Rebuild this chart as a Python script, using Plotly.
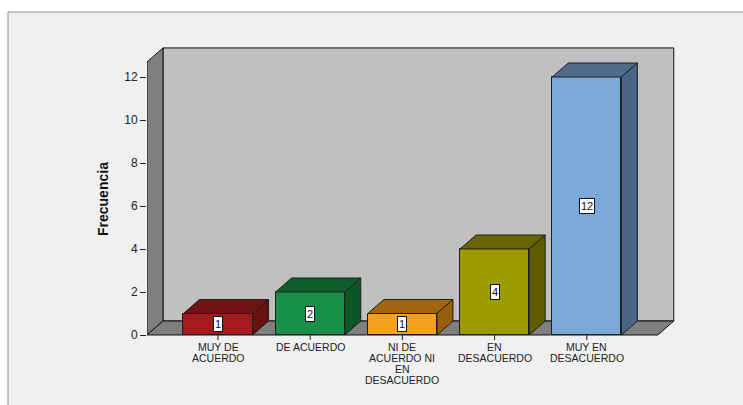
import plotly.graph_objects as go

# --- data ---------------------------------------------------------------
category_lines = [
    ["MUY DE", "ACUERDO"],
    ["DE ACUERDO"],
    ["NI DE", "ACUERDO NI", "EN", "DESACUERDO"],
    ["EN", "DESACUERDO"],
    ["MUY EN", "DESACUERDO"],
]
frecuencia = [1, 2, 1, 4, 12]
y_ticks = [0, 2, 4, 6, 8, 10, 12]

front_colors = ["#A8191D", "#17904A", "#F6A11E", "#9E9B00", "#7BAAD8"]
top_colors = ["#701313", "#0E5E2C", "#A2640F", "#676400", "#4F6C8D"]
side_colors = ["#691010", "#0B5527", "#9A5F0E", "#5F5C00", "#4A6585"]

# --- geometry (pixels / data units) -------------------------------------
W, H = 743, 405
PX_LEFT, PX_RIGHT, PX_TOP, PX_BOTTOM = 147, 690, 40, 344
PX_ZERO = 335          # pixel row of value 0
PX_CAT = 92.2          # pixels per category
PX_UNIT = 21.5         # pixels per frequency unit
CENTER0 = 218          # pixel column of the first category

x_min = (PX_LEFT - CENTER0) / PX_CAT
x_max = x_min + (PX_RIGHT - PX_LEFT) / PX_CAT
y_min = -(PX_BOTTOM - PX_ZERO) / PX_UNIT
y_max = y_min + (PX_BOTTOM - PX_TOP) / PX_UNIT

DX = 16 / PX_CAT       # depth offset, horizontal
DY = 14 / PX_UNIT      # depth offset, vertical
BAR_W = 0.75
WALL_L, WALL_R = -0.77, 4.77
WALL_TOP = 12.7

PW = PX_RIGHT - PX_LEFT
PH = PX_BOTTOM - PX_TOP


def px_to_paper_x(px):
    return (px - PX_LEFT) / PW


def px_to_paper_y(py):
    return (PX_BOTTOM - py) / PH


def poly(points):
    return "M " + " L ".join(f"{x},{y}" for x, y in points) + " Z"


FONT = "Liberation Sans, Arial, sans-serif"
EDGE = "#1E1E1E"

fig = go.Figure()

shapes = [
    # outer chart panel
    dict(type="rect", xref="paper", yref="paper",
         x0=px_to_paper_x(8), x1=px_to_paper_x(780),
         y0=px_to_paper_y(440), y1=px_to_paper_y(12),
         fillcolor="#F0F0F0", line=dict(color="#8C8C8C", width=1), layer="below"),
    # back wall
    dict(type="path", xref="x", yref="y", layer="below",
         path=poly([(WALL_L + DX, DY), (WALL_R + DX, DY),
                    (WALL_R + DX, WALL_TOP + DY), (WALL_L + DX, WALL_TOP + DY)]),
         fillcolor="#C0C0C0", line=dict(color="#111111", width=1)),
    # left wall
    dict(type="path", xref="x", yref="y", layer="below",
         path=poly([(WALL_L, 0), (WALL_L + DX, DY),
                    (WALL_L + DX, WALL_TOP + DY), (WALL_L, WALL_TOP)]),
         fillcolor="#7F7F7F", line=dict(color="#111111", width=1)),
    # floor
    dict(type="path", xref="x", yref="y", layer="below",
         path=poly([(WALL_L, 0), (WALL_R, 0), (WALL_R + DX, DY), (WALL_L + DX, DY)]),
         fillcolor="#7F7F7F", line=dict(color="#111111", width=1)),
]

# category tick marks under the floor edge
for i in range(len(frecuencia)):
    shapes.append(dict(type="line", xref="x", yref="y", x0=i, x1=i,
                       y0=0, y1=-5 / PX_UNIT, line=dict(color="#222222", width=1)))

# bar front faces
xs = list(range(len(frecuencia)))
fig.add_trace(go.Bar(
    x=xs, y=frecuencia, width=BAR_W,
    marker=dict(color=front_colors, line=dict(color=EDGE, width=1)),
    hoverinfo="skip", showlegend=False,
))

# bar top and side faces
for i, v in enumerate(frecuencia):
    l, r = i - BAR_W / 2, i + BAR_W / 2
    top = [(l, v), (r, v), (r + DX, v + DY), (l + DX, v + DY), (l, v)]
    side = [(r, 0), (r + DX, DY), (r + DX, v + DY), (r, v), (r, 0)]
    for pts, col in ((top, top_colors[i]), (side, side_colors[i])):
        fig.add_trace(go.Scatter(
            x=[p[0] for p in pts], y=[p[1] for p in pts],
            mode="lines", fill="toself", fillcolor=col,
            line=dict(color=EDGE, width=1),
            hoverinfo="skip", showlegend=False,
        ))

annotations = []
# value labels in the middle of each bar
for i, v in enumerate(frecuencia):
    annotations.append(dict(
        x=i, y=v / 2, xref="x", yref="y", text=str(v), showarrow=False,
        font=dict(family=FONT, size=11, color="#111111"),
        bgcolor="#FFFFFF", bordercolor="#111111", borderwidth=1, borderpad=1,
    ))

# category labels, one annotation per line
for i, lines in enumerate(category_lines):
    for k, line in enumerate(lines):
        annotations.append(dict(
            x=i, y=0, xref="x", yref="y", text=line, showarrow=False,
            yanchor="middle", yshift=-(12 + k * 11),
            font=dict(family=FONT, size=10.5, color="#222222"),
        ))

# axis title
annotations.append(dict(
    x=px_to_paper_x(103), y=px_to_paper_y(199), xref="paper", yref="paper",
    xanchor="center", yanchor="middle",
    text="<b>Frecuencia</b>", textangle=-90, showarrow=False,
    font=dict(family=FONT, size=14, color="#111111"),
))

fig.update_layout(
    width=W, height=H,
    margin=dict(l=PX_LEFT, r=W - PX_RIGHT, t=PX_TOP, b=H - PX_BOTTOM, pad=0),
    paper_bgcolor="#FFFFFF", plot_bgcolor="rgba(0,0,0,0)",
    shapes=shapes, annotations=annotations,
    bargap=0, showlegend=False,
    xaxis=dict(range=[x_min, x_max], visible=False, fixedrange=True),
    yaxis=dict(range=[y_min, y_max], tickvals=y_ticks, ticks="outside", ticklen=6,
               tickcolor="#222222", showgrid=False, zeroline=False, showline=False,
               tickfont=dict(family=FONT, size=12, color="#222222"), fixedrange=True),
    font=dict(family=FONT),
)

fig.write_html("out.html", config={"displayModeBar": False})
